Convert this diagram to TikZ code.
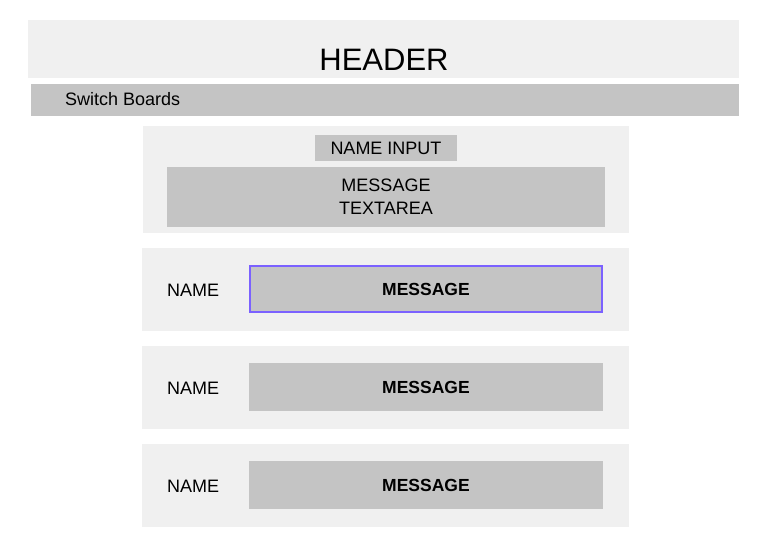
\documentclass[tikz,border=0pt]{standalone}
\usepackage{fontspec}
\setmainfont{Liberation Sans}
\definecolor{panelgray}{HTML}{F0F0F0}
\definecolor{fieldgray}{HTML}{C4C4C4}
\definecolor{focusline}{HTML}{7B61FF}
\begin{document}
\begin{tikzpicture}[x=1pt,y=-1pt,
	box/.style={anchor=north west,inner sep=0pt,outer sep=0pt},
	panel/.style={box,fill=panelgray},
	field/.style={box,fill=fieldgray},
	lbl/.style={inner sep=0pt,font=\fontsize{18}{23}\selectfont},
	msgtext/.style={font=\fontsize{17.5}{21}\selectfont\bfseries}]
	\useasboundingbox (0,0) rectangle (762,549);
	% header and menu bar
	\node [panel,minimum width=711pt,minimum height=58pt] (header) at (28,20) {};
	\node [inner sep=0pt,font=\fontsize{31}{36}\selectfont] (title) at (384,60) {HEADER};
	\node [field,minimum width=708pt,minimum height=32pt] (menubar) at (31,84) {};
	\node [lbl,anchor=west] (switch) at (65,99) {Switch Boards};
	% form
	\node [panel,minimum width=486pt,minimum height=107pt] (form) at (143,126) {};
	\node [field,lbl,minimum width=142pt,minimum height=26pt] (nameinput) at (315,135) {NAME INPUT};
	\node [field,lbl,align=center,minimum width=438pt,minimum height=60pt] (textarea) at (167,167) {MESSAGE\\TEXTAREA};
	% messages
	\foreach \t [count=\i] in {248,346,444} {
		\node [panel,minimum width=487pt,minimum height=83pt] (row\i) at (142,\t) {};
		\node [field,msgtext,minimum width=354pt,minimum height=48pt] (msg\i) at (249,\t+17) {MESSAGE};
		\node [lbl,anchor=west] (name\i) at (167,\t+42) {NAME};
	}
	\draw [focusline,line width=2pt] ([shift={(1pt,-1pt)}]msg1.north west) rectangle ([shift={(-1pt,1pt)}]msg1.south east);
\end{tikzpicture}
\end{document}
